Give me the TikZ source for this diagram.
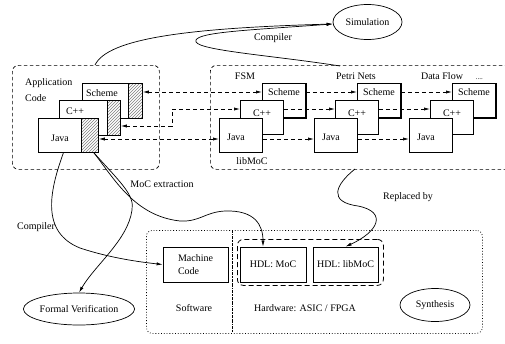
\documentclass[tikz,border=0pt]{standalone}
\usepackage{fontspec}
\setmainfont{Liberation Serif}
\usetikzlibrary{arrows.meta,shapes.geometric,patterns}
\begin{document}
\begin{tikzpicture}[x=1pt,y=-1pt,
  font=\fontsize{10}{12}\selectfont,
  every node/.style={inner sep=0pt},
  >={Latex[length=6pt,width=3.2pt]},
  pbox/.style={draw, line width=0.8pt, fill=white, rectangle, anchor=north west, minimum width=43pt, minimum height=34pt},
  hatchbox/.style={draw, line width=0.8pt, rectangle, anchor=north west, pattern=north east lines, pattern color=gray},
  container/.style={draw, dash pattern=on 3.5pt off 2.5pt, line width=0.7pt, rounded corners=6pt, rectangle, anchor=north west},
  dotbox/.style={draw, dotted, line width=0.8pt, rounded corners=6pt, rectangle, anchor=north west},
  hdlgroup/.style={draw, dash pattern=on 5pt off 3pt, line width=0.8pt, rounded corners=6pt, rectangle, anchor=north west},
  divider/.style={line width=0.7pt, dash pattern=on 1.5pt off 0.8pt on 0.5pt off 0.8pt},
  dar/.style={<->, dash pattern=on 4pt off 3pt, line width=0.7pt},
  dr/.style={->, dash pattern=on 4pt off 3pt, line width=0.7pt},
  arr/.style={->, line width=0.7pt},
  ell/.style={ellipse, draw, line width=0.7pt},
  sbox/.style={draw, line width=0.8pt, rectangle, minimum height=35pt},
  shade edge/.style={line width=1.5pt}
]
\useasboundingbox (0,0) rectangle (505,343);
\clip (0,0) rectangle (505,343);

% containers
\node[container, minimum width=147pt, minimum height=104pt] (app) at (12,65) {};
\node[container, minimum width=310pt, minimum height=104pt] (lib) at (210,65) {};
\node[anchor=west, align=left] (apptxt) at (25,90) {Application\\[4pt]Code};

% left group (application code)
\node[pbox, minimum width=60pt, minimum height=35pt] (s0) at (82,83) {};
\node[hatchbox, minimum width=14pt, minimum height=35pt] (sh0) at (128,83) {};
\node[pbox, minimum width=61pt, minimum height=35pt] (c0) at (59,100) {};
\node[hatchbox, minimum width=13pt, minimum height=35pt] (ch0) at (107,100) {};
\node[pbox, minimum width=60pt, minimum height=34pt] (j0) at (38,118) {};
\node[hatchbox, minimum width=17pt, minimum height=34pt] (jh0) at (81,118) {};
\node (st0) at (102,93) {Scheme};
\node (ct0) at (75,111) {C++};
\node (jt0) at (60,138) {Java};

% library groups
\foreach \i/\dx in {1/0,2/95,3/190}{
  \node[pbox] (s\i) at (262+\dx,83) {};
  \draw[shade edge] (s\i.north east) -- (s\i.south east) -- (s\i.south west);
  \node (st\i) at (284+\dx,92) {Scheme};
  \node[pbox] (c\i) at (240+\dx,100) {};
  \node[pbox] (j\i) at (219+\dx,118) {};
  \node (ct\i) at (262+\dx,113) {C++};
  \node (jt\i) at (236+\dx,137) {Java};
}
\node (fsm) at (245,76) {FSM};
\node (petri) at (356,76) {Petri Nets};
\node (dflow) at (452,76) {Data Flow\hspace{13pt}{\fontsize{7}{8}\selectfont ....}};
\node (libmoc) at (252,161) {libMoC};

% row levels
\coordinate (rowS) at (0,92);
\coordinate (rowC) at (0,109);
\coordinate (rowCl) at (0,126);
\coordinate (rowJ) at (0,139);
\coordinate (cb1) at (172,126);
\coordinate (cb2) at (172,109);

\draw[dar] (s0.east |- rowS) -- (s1.west |- rowS);
\draw[dar] (c0.east |- rowCl) -- (cb1) -- (cb2) -- (c1.west |- rowC);
\draw[dar] (j0.east |- rowJ) -- (j1.west |- rowJ);
\draw[dr] (s1.east |- rowS) -- (s2.west |- rowS);
\draw[dr] (s2.east |- rowS) -- (s3.west |- rowS);
\draw[dr] (c1.east |- rowC) -- (c2.west |- rowC);
\draw[dr] (c2.east |- rowC) -- (c3.west |- rowC);
\draw[dr] (j1.east |- rowJ) -- (j2.west |- rowJ);
\draw[dr] (j2.east |- rowJ) -- (j3.west |- rowJ);

% ellipses
\node[ell, minimum width=69pt, minimum height=35pt] (sim) at (367.5,22) {Simulation};
\node[ell, minimum width=91pt, minimum height=32pt] (fv) at (79,309) {Formal Verification};
\node[ell, minimum width=70pt, minimum height=33pt] (syn) at (435,305) {Synthesis};

% bottom area
\node[dotbox, minimum width=336pt, minimum height=103pt] (hwsw) at (146,230) {};
\draw[divider] (232,230) -- (232,333);
\node[hdlgroup, minimum width=146pt, minimum height=46pt] (hdlg) at (237,239) {};
\node[sbox, minimum width=65pt, align=left] (mc) at (195.5,264.5) {Machine\\[1pt]Code};
\node[sbox, minimum width=66pt] (hm) at (273,264.5) {HDL: MoC};
\node[sbox, minimum width=65pt] (hl) at (345.5,264.5) {HDL: libMoC};
\node (sw) at (194,308) {Software};
\node (hw) at (305,308) {Hardware: ASIC / FPGA};

% curve labels
\node (lcomp1) at (273,38) {Compiler};
\node (lcomp2) at (36,227) {Compiler};
\node (lmoc) at (162,184) {MoC extraction};
\node (lrep) at (408,197) {Replaced by};

% curves
\coordinate (a1) at (95,65);
\coordinate (r1) at (340,66);
\coordinate (r2) at (355,169);
\draw[arr] (a1) .. controls (108,38) and (190,28) .. ([yshift=-2pt]sim.west);
\draw[arr] (r1) .. controls (270,55) and (190,50) .. (196,40) .. controls (200,32) and (250,30) .. ([yshift=-2pt]sim.west);
\draw[arr] ([xshift=-5pt]j0.south) .. controls (50,190) and (40,232) .. (80,248) .. controls (110,258) and (140,262) .. (mc.west);
\draw[arr] ([xshift=4pt]jh0.south) .. controls (120,182) and (135,195) .. (132,210) .. controls (128,240) and (95,265) .. (fv.north);
\draw[arr] ([xshift=4pt]jh0.south) .. controls (115,180) and (135,216) .. (180,221) .. controls (200,222) and (205,212) .. (225,211) .. controls (255,210) and (263,225) .. ([xshift=-10pt]hm.north);
\draw[arr] (r2) .. controls (335,185) and (328,202) .. (358,206) .. controls (388,212) and (378,232) .. (hl.north);
\end{tikzpicture}
\end{document}
